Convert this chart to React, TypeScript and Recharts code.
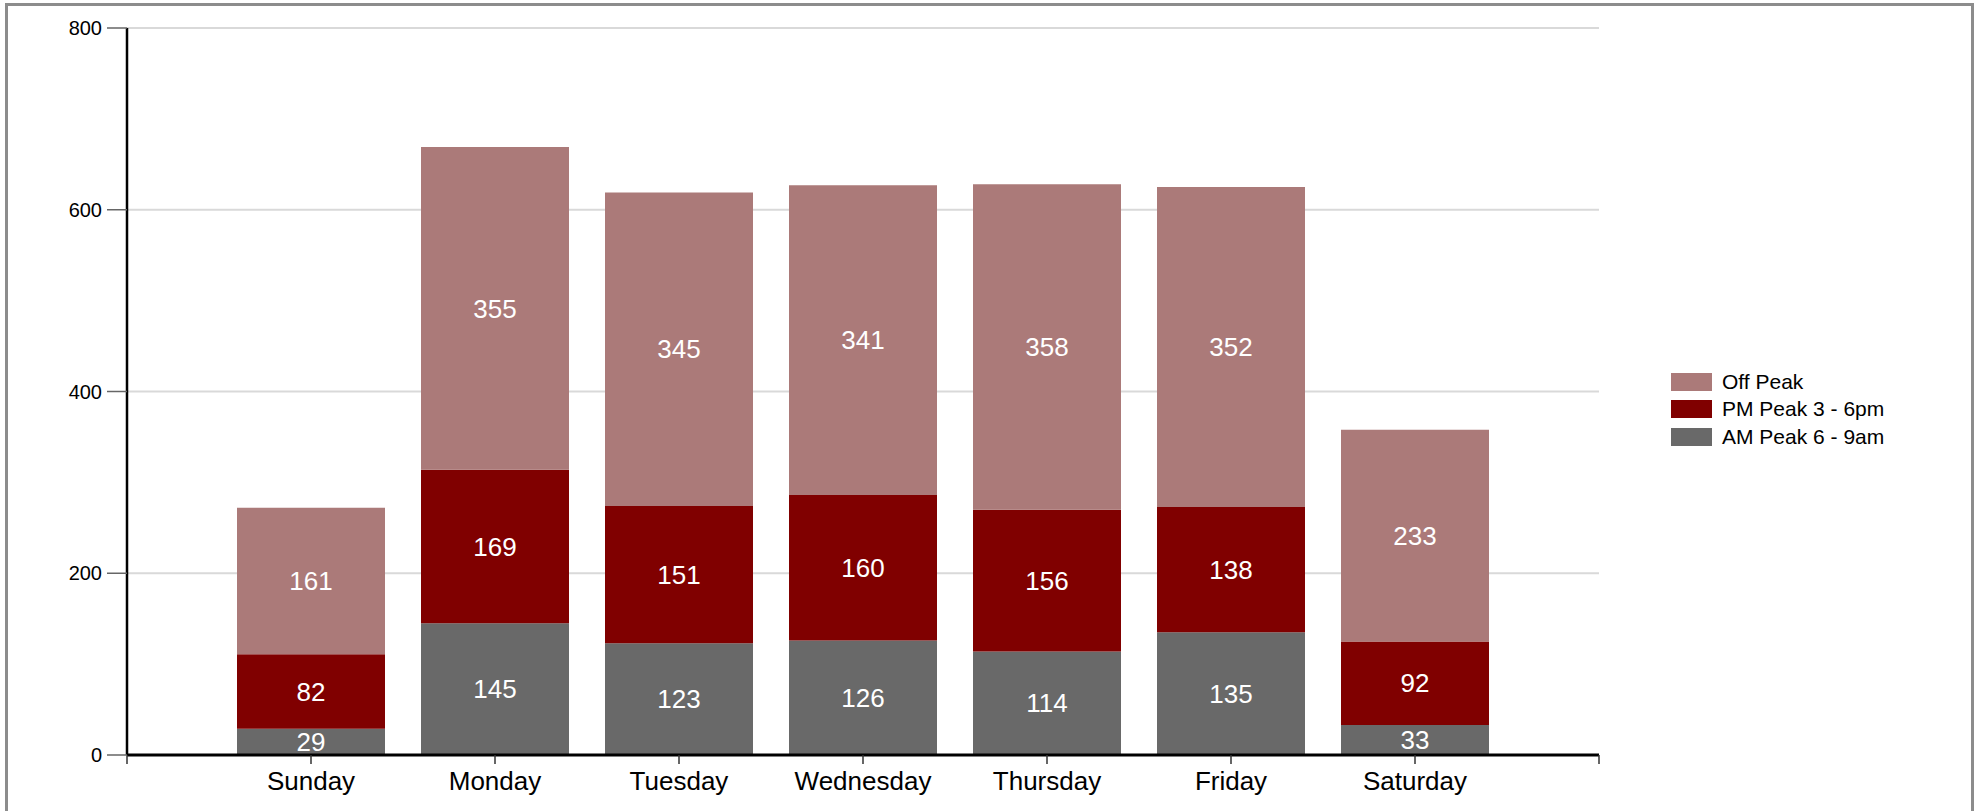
import React from 'react';
import { BarChart, Bar, XAxis, YAxis, CartesianGrid, Legend, LabelList } from 'recharts';

const days = ['Sunday', 'Monday', 'Tuesday', 'Wednesday', 'Thursday', 'Friday', 'Saturday'];
const amPeak = [29, 145, 123, 126, 114, 135, 33];
const pmPeak = [82, 169, 151, 160, 156, 138, 92];
const offPeak = [161, 355, 345, 341, 358, 352, 233];
const yTicks = [0, 200, 400, 600, 800];
const legendOrder = ['Off Peak', 'PM Peak 3 - 6pm', 'AM Peak 6 - 9am'];

const data = days.map((day, i) => ({
  pos: i + 1,
  day,
  am: amPeak[i],
  pm: pmPeak[i],
  off: offPeak[i],
}));

// one empty slot either side of the days, with ticks at both ends
const xTicks = [0, ...days.map((_, i) => i + 1), days.length + 1];

const renderLegend = (props: any) => {
  const items = [...(props.payload || [])].sort(
    (a: any, b: any) => legendOrder.indexOf(a.value) - legendOrder.indexOf(b.value)
  );
  return (
    <div style={{ display: 'flex', flexDirection: 'column' }}>
      {items.map((it: any) => (
        <div
          key={it.value}
          style={{ display: 'flex', alignItems: 'center', height: 27.5, fontSize: 21, color: '#000' }}
        >
          <span style={{ display: 'inline-block', width: 41, height: 18, background: it.color, marginRight: 10 }} />
          <span>{it.value}</span>
        </div>
      ))}
    </div>
  );
};

export default function App() {
  return (
    <div
      style={{
        position: 'fixed',
        left: 0,
        top: 0,
        width: 1979,
        height: 811,
        background: '#fff',
        overflow: 'hidden',
        fontFamily: '"Liberation Sans", Arial, sans-serif',
      }}
    >
      <div
        style={{
          position: 'absolute',
          left: 5,
          top: 3,
          width: 1969,
          height: 900,
          border: '3px solid #8c8c8c',
          boxSizing: 'border-box',
        }}
      />
      <div style={{ position: 'absolute', left: 0, top: 0 }}>
        <BarChart
          width={1979}
          height={811}
          data={data}
          margin={{ top: 28, right: 380, bottom: 0, left: 0 }}
          style={{ fontFamily: '"Liberation Sans", Arial, sans-serif' }}
        >
          <CartesianGrid vertical={false} stroke="#d9d9d9" strokeWidth={2} />
          <XAxis
            type="number"
            dataKey="pos"
            domain={[0, days.length + 1]}
            ticks={xTicks}
            interval={0}
            tickFormatter={(v: number) => days[v - 1] ?? ''}
            height={56}
            tickSize={9}
            tickMargin={8}
            axisLine={{ stroke: '#000', strokeWidth: 3 }}
            tickLine={{ stroke: '#333', strokeWidth: 1.5 }}
            tick={{ fontSize: 26, fill: '#000' }}
          />
          <YAxis
            domain={[0, 800]}
            ticks={yTicks}
            interval={0}
            width={127}
            tickSize={20}
            tickMargin={5}
            axisLine={{ stroke: '#000', strokeWidth: 2.5 }}
            tickLine={{ stroke: '#666', strokeWidth: 1.5 }}
            tick={{ fontSize: 20, fill: '#000' }}
          />
          <Legend
            layout="vertical"
            align="center"
            verticalAlign="middle"
            content={renderLegend}
            wrapperStyle={{ left: 1671, top: 368, width: 'auto', height: 'auto' }}
          />
          <Bar dataKey="am" name="AM Peak 6 - 9am" stackId="a" fill="#696969" barSize={148} isAnimationActive={false}>
            <LabelList dataKey="am" position="center" fill="#fff" fontSize={26} />
          </Bar>
          <Bar dataKey="pm" name="PM Peak 3 - 6pm" stackId="a" fill="#800000" barSize={148} isAnimationActive={false}>
            <LabelList dataKey="pm" position="center" fill="#fff" fontSize={26} />
          </Bar>
          <Bar dataKey="off" name="Off Peak" stackId="a" fill="#ab7a79" barSize={148} isAnimationActive={false}>
            <LabelList dataKey="off" position="center" fill="#fff" fontSize={26} />
          </Bar>
        </BarChart>
      </div>
    </div>
  );
}
